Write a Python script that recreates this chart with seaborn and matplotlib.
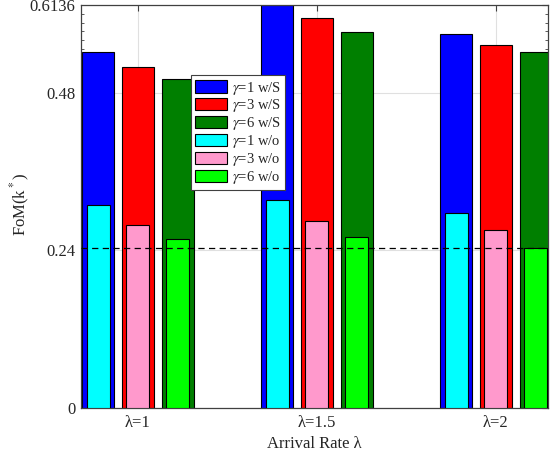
import numpy as np
import pandas as pd
import matplotlib
matplotlib.use("Agg")
import matplotlib.pyplot as plt
from matplotlib.patches import Patch
from matplotlib.ticker import FixedLocator
import seaborn as sns

# Arrival-rate groups and gamma settings
rates = ["\u03bb=1", "\u03bb=1.5", "\u03bb=2"]
gammas = ["1", "3", "6"]

# FoM(k*) with S (outer bars) and without (inner bars), one list per gamma
with_s_g1 = [0.5428, 0.6136, 0.5703]
with_s_g3 = [0.5190, 0.5936, 0.5530]
with_s_g6 = [0.5012, 0.5723, 0.5428]
without_g1 = [0.3084, 0.3160, 0.2962]
without_g3 = [0.2780, 0.2846, 0.2703]
without_g6 = [0.2566, 0.2597, 0.2435]

# Reference level (dashed line)
threshold = 0.2435

ytick_vals = [0, 0.24, 0.48, 0.6136]
ytick_labels = ["0", "0.24", "0.48", "0.6136"]

colors_s = ["#0000ff", "#ff0000", "#007f00"]
colors_o = ["#00ffff", "#ff99cc", "#00ff00"]

def long_form(series):
    rows = []
    for g, vals in zip(gammas, series):
        for r, v in zip(rates, vals):
            rows.append({"rate": r, "gamma": g, "fom": v})
    return pd.DataFrame(rows)

df_s = long_form([with_s_g1, with_s_g3, with_s_g6])
df_o = long_form([without_g1, without_g3, without_g6])

sns.set_style("white")
plt.rcParams["font.family"] = ["Liberation Serif", "DejaVu Serif"]
plt.rcParams["mathtext.fontset"] = "stix"

fig = plt.figure(figsize=(5.51, 4.61), dpi=100)
ax = fig.add_axes([0.147, 0.115, 0.8476, 0.874])

text_col = "#262626"
group_w = 2 / 3

sns.barplot(data=df_s, x="rate", y="fom", hue="gamma", order=rates,
            hue_order=gammas, palette=colors_s, width=group_w, gap=0.2,
            saturation=1, edgecolor="black", linewidth=0.8,
            errorbar=None, legend=False, ax=ax, zorder=2)
sns.barplot(data=df_o, x="rate", y="fom", hue="gamma", order=rates,
            hue_order=gammas, palette=colors_o, width=group_w, gap=0.424,
            saturation=1, edgecolor="black", linewidth=0.8,
            errorbar=None, legend=False, ax=ax, zorder=3)

ax.axhline(threshold, color="black", linestyle=(0, (5, 3.5)), linewidth=0.9,
           zorder=5)

ax.set_xlim(-0.318, 2.291)
ax.set_ylim(0, 0.6136)

ax.set_yticks(ytick_vals)
ax.set_yticklabels(ytick_labels)
minor = []
for lo, hi in zip(ytick_vals[:-1], ytick_vals[1:]):
    minor.extend(np.linspace(lo, hi, 11)[1:-1])
ax.yaxis.set_minor_locator(FixedLocator(minor))

ax.grid(True, which="major", color="#e0e0e0", linewidth=0.8)
ax.set_axisbelow(True)

ax.tick_params(axis="both", which="both", direction="in", colors="#404040",
               labelcolor=text_col, labelsize=12, top=True, right=True)
ax.tick_params(axis="both", which="major", length=4, width=0.8)
ax.tick_params(axis="y", which="minor", length=2.5, width=0.6, left=True,
               right=True)
ax.tick_params(axis="x", which="major", pad=5)
ax.tick_params(axis="y", which="major", pad=4)

for sp in ax.spines.values():
    sp.set_color("#404040")
    sp.set_linewidth(0.9)

ax.set_xlabel("Arrival Rate \u03bb", fontsize=12, color=text_col, labelpad=4)
ax.set_ylabel("FoM(k$^*$)", fontsize=12, color=text_col)
ax.yaxis.set_label_coords(-0.105, 0.505)

labels = [f"$\\gamma$={g} w/S" for g in gammas] + \
         [f"$\\gamma$={g} w/o" for g in gammas]
handles = [Patch(facecolor=c, edgecolor="black", linewidth=0.8)
           for c in colors_s + colors_o]
leg = ax.legend(handles, labels, loc="upper left",
                bbox_to_anchor=(0.235, 0.826), fontsize=10.5,
                frameon=True, fancybox=False, edgecolor="#404040",
                framealpha=1, handlelength=2.2, handleheight=0.9,
                handletextpad=0.3, labelspacing=0.06, borderpad=0.3,
                borderaxespad=0)
leg.get_frame().set_linewidth(0.8)
leg.set_zorder(10)

fig.savefig("out.png", dpi=100)
